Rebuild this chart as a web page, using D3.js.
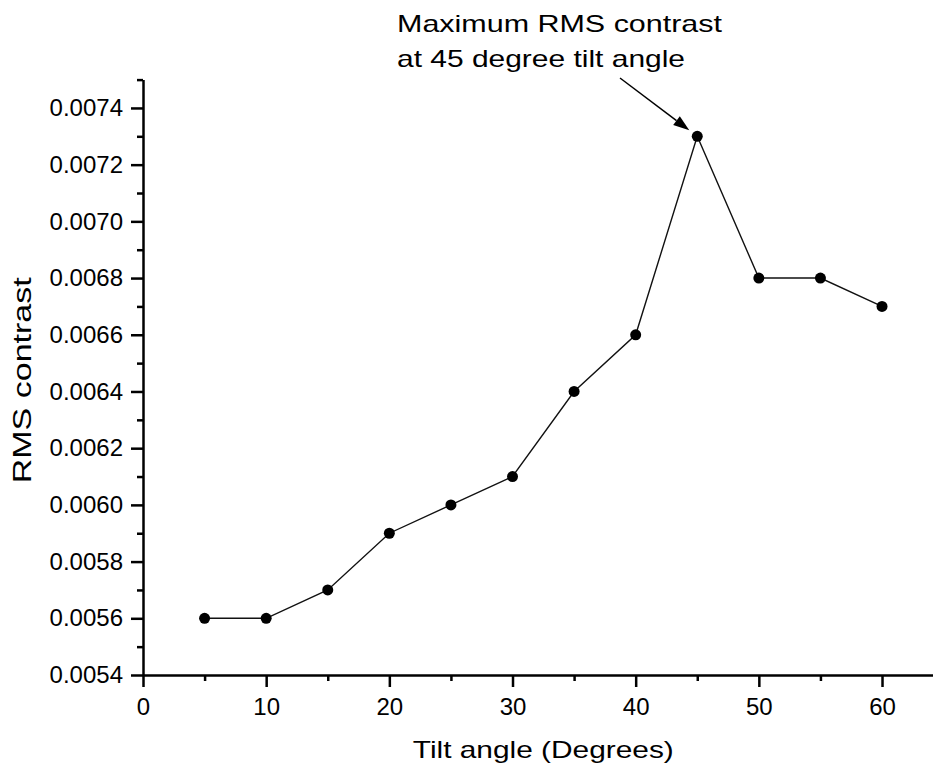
<!DOCTYPE html>
<html>
<head>
<meta charset="utf-8">
<script src="https://cdn.jsdelivr.net/npm/d3@7"></script>
<style>
  body { margin: 0; background: #fff; }
  svg { display: block; font-family: "Liberation Sans", Arial, sans-serif; }
</style>
</head>
<body>
<div id="chart"></div>
<script>
// data
var tiltAngles = [5, 10, 15, 20, 25, 30, 35, 40, 45, 50, 55, 60];
var rmsContrast = [0.0056, 0.0056, 0.0057, 0.0059, 0.0060, 0.0061, 0.0064, 0.0066, 0.0073, 0.0068, 0.0068, 0.0067];

var xTicks = [0, 10, 20, 30, 40, 50, 60];
var xMinorTicks = [5, 15, 25, 35, 45, 55, 65];
var yTicks = [0.0054, 0.0056, 0.0058, 0.0060, 0.0062, 0.0064, 0.0066, 0.0068, 0.0070, 0.0072, 0.0074];
var yMinorTicks = [0.0055, 0.0057, 0.0059, 0.0061, 0.0063, 0.0065, 0.0067, 0.0069, 0.0071, 0.0073, 0.0075];

var xTitle = "Tilt angle (Degrees)";
var yTitle = "RMS contrast";
var noteLines = ["Maximum RMS contrast", "at 45 degree tilt angle"];
var noteAngle = 45;

var width = 933, height = 767;

var svg = d3.select("#chart").append("svg")
    .attr("width", width)
    .attr("height", height);

// scales
var x = d3.scaleLinear().domain([0, 65]).range([143, 943.6]);
var y = d3.scaleLinear().domain([0.0054, 0.0075]).range([675, 79.6]);

// minor ticks first (no labels)
svg.append("g")
    .attr("transform", "translate(0," + y(0.0054) + ")")
    .call(d3.axisBottom(x).tickValues(xMinorTicks).tickSize(6).tickFormat(""))
    .call(function(g){ g.select(".domain").remove(); });

svg.append("g")
    .attr("transform", "translate(" + x(0) + ",0)")
    .call(d3.axisLeft(y).tickValues(yMinorTicks).tickSize(6).tickFormat(""))
    .call(function(g){ g.select(".domain").remove(); });

// major axes
svg.append("g")
    .attr("transform", "translate(0," + y(0.0054) + ")")
    .call(d3.axisBottom(x).tickValues(xTicks).tickSize(12).tickSizeOuter(0).tickPadding(11));

svg.append("g")
    .attr("transform", "translate(" + x(0) + ",0)")
    .call(d3.axisLeft(y).tickValues(yTicks).tickSize(12).tickSizeOuter(0).tickPadding(8)
      .tickFormat(d3.format(".4f")));

svg.selectAll(".domain").attr("stroke", "#000").attr("stroke-width", 2.5);
svg.selectAll(".tick line").attr("stroke", "#000").attr("stroke-width", 2.5);
svg.selectAll(".tick text")
    .attr("fill", "#000")
    .style("font-size", "24px")
    .style("font-family", "'Liberation Sans', Arial, sans-serif");

// axis titles
svg.append("text")
    .attr("x", (x.range()[0] + x.range()[1]) / 2)
    .attr("y", 758)
    .attr("text-anchor", "middle")
    .attr("textLength", 261)
    .attr("lengthAdjust", "spacingAndGlyphs")
    .style("font-size", "24px")
    .text(xTitle);

svg.append("text")
    .attr("transform", "translate(31," + ((y.range()[0] + y.range()[1]) / 2 + 3) + ") rotate(-90)")
    .attr("text-anchor", "middle")
    .attr("textLength", 206)
    .attr("lengthAdjust", "spacingAndGlyphs")
    .style("font-size", "25px")
    .text(yTitle);

// line + points
var line = d3.line()
    .x(function(d, i){ return x(tiltAngles[i]); })
    .y(function(d){ return y(d); });

svg.append("path")
    .datum(rmsContrast)
    .attr("fill", "none")
    .attr("stroke", "#111")
    .attr("stroke-width", 1.4)
    .attr("d", line);

svg.selectAll("circle.pt")
    .data(rmsContrast)
  .enter().append("circle")
    .attr("class", "pt")
    .attr("cx", function(d, i){ return x(tiltAngles[i]); })
    .attr("cy", function(d){ return y(d); })
    .attr("r", 5.5)
    .attr("fill", "#000");

// annotation
var noteLengths = [325, 288];
svg.selectAll("text.note")
    .data(noteLines)
  .enter().append("text")
    .attr("class", "note")
    .attr("x", 397)
    .attr("y", function(d, i){ return 32 + i * 35; })
    .attr("textLength", function(d, i){ return noteLengths[i]; })
    .attr("lengthAdjust", "spacingAndGlyphs")
    .style("font-size", "24px")
    .text(function(d){ return d; });

var peak = rmsContrast[tiltAngles.indexOf(noteAngle)];
var tx = x(noteAngle), ty = y(peak);
var sx = 620, sy = 78;
var dx = tx - sx, dy = ty - sy, len = Math.sqrt(dx * dx + dy * dy);
var ux = dx / len, uy = dy / len;
var tipX = tx - ux * 10, tipY = ty - uy * 10;
var headLen = 16, headW = 5.5;
var baseX = tipX - ux * headLen, baseY = tipY - uy * headLen;

svg.append("line")
    .attr("x1", sx).attr("y1", sy)
    .attr("x2", baseX).attr("y2", baseY)
    .attr("stroke", "#000")
    .attr("stroke-width", 1.5);

svg.append("path")
    .attr("d", "M" + tipX + "," + tipY +
      "L" + (baseX - uy * headW) + "," + (baseY + ux * headW) +
      "L" + (baseX + uy * headW) + "," + (baseY - ux * headW) + "Z")
    .attr("fill", "#000");
</script>
</body>
</html>
